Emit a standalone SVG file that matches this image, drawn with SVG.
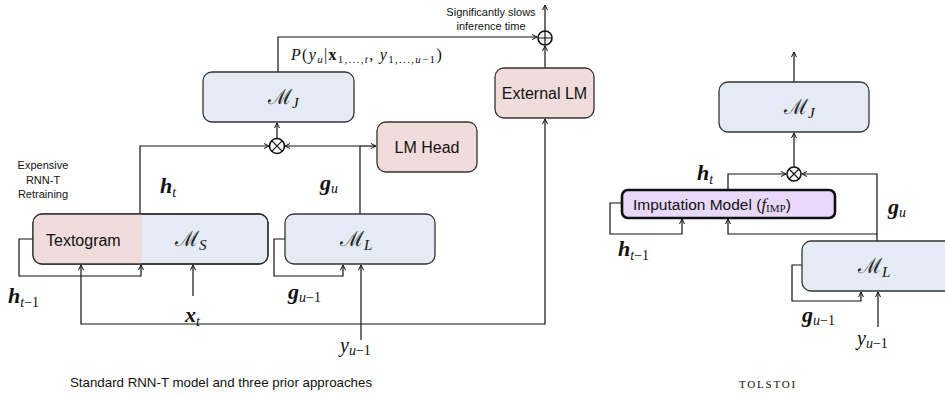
<svg xmlns="http://www.w3.org/2000/svg" width="945" height="396" viewBox="0 0 945 396">
<defs>
<marker id="ar" markerUnits="userSpaceOnUse" markerWidth="8" markerHeight="8" refX="6" refY="3" orient="auto">
<path d="M1,0.5 L6,3 L1,5.5" fill="none" stroke="#111" stroke-width="1"/>
</marker>
</defs>
<style>
.blue{fill:#e4ebf5;stroke:#333;stroke-width:1.3}
.pink{fill:#f0dcdb;stroke:#333;stroke-width:1.3}
.purple{fill:#e9d8f9;stroke:#111;stroke-width:2.6}
.ln{fill:none;stroke:#111;stroke-width:1.2}
.arr{fill:none;stroke:#111;stroke-width:1.2;marker-end:url(#ar)}
.sans{font-family:"Liberation Sans",Arial,sans-serif;fill:#111}
.math{font-family:"Liberation Serif","DejaVu Serif",serif;font-style:italic;fill:#111}
.bm{font-family:"Liberation Serif","DejaVu Serif",serif;font-style:italic;font-weight:bold;fill:#111;font-size:22px}
.cal{font-family:"DejaVu Serif",serif;font-style:normal;fill:#222}
.sub{font-size:14px;font-weight:normal}
.circ{fill:#fff;stroke:#111;stroke-width:1.6}
</style>

<g id="connectors">
<!-- left panel -->
<path class="arr" d="M278,72 V37 H537"/>
<path class="arr" d="M545,31 V5"/>
<path class="arr" d="M545,68 V46"/>
<path class="arr" d="M277,138 V123"/>
<path class="arr" d="M140,214 V146 H269"/>
<path class="ln" d="M360,214 V146"/>
<path class="arr" d="M360,146 H285"/>
<path class="arr" d="M360,146 H376"/>
<path class="arr" d="M33,239 H19 V276 H141 V265"/>
<path class="arr" d="M193,296 V265"/>
<path class="arr" d="M285,239 H274 V276 H343 V265"/>
<path class="arr" d="M361,340 V265"/>
<path class="arr" d="M361,324 H81 V265"/>
<path class="arr" d="M361,324 H545 V119"/>
<!-- right panel -->
<path class="arr" d="M794,82 V52"/>
<path class="arr" d="M794,167 V133"/>
<path class="arr" d="M728,190 V174 H786"/>
<path class="arr" d="M877,241 V174 H802"/>
<path class="arr" d="M877,234 H728 V219"/>
<path class="arr" d="M622,203 H610 V234 H682 V219"/>
<path class="arr" d="M802,265 H792 V301 H861 V292"/>
<path class="arr" d="M878,327 V292"/>
</g>

<g id="ops">
<g id="oplus">
<circle class="circ" cx="545" cy="38" r="7"/>
<path class="ln" d="M538,38 H552 M545,31 V45" stroke-width="1.5"/>
</g>
<g id="otimes-left">
<circle class="circ" cx="277" cy="146" r="7.5"/>
<path class="ln" d="M271.7,140.7 L282.3,151.3 M282.3,140.7 L271.7,151.3" stroke-width="1.5"/>
</g>
<g id="otimes-right">
<circle class="circ" cx="794" cy="174" r="7"/>
<path class="ln" d="M789,169 L799,179 M799,169 L789,179" stroke-width="1.5"/>
</g>
</g>

<g id="mj-left">
<rect class="blue" x="203" y="72" width="151" height="50" rx="9"/>
<text class="cal" x="268" y="104" font-size="21">ℳ<tspan class="math" font-size="15" dy="4">J</tspan></text>
</g>
<g id="external-lm">
<rect class="pink" x="495" y="68" width="99" height="50" rx="9"/>
<text class="sans" x="544.5" y="99" font-size="16" text-anchor="middle">External LM</text>
</g>
<g id="lm-head">
<rect class="pink" x="377" y="122" width="100" height="50" rx="9"/>
<text class="sans" x="427" y="153" font-size="16" text-anchor="middle">LM Head</text>
</g>
<g id="textogram-ms">
<rect class="blue" x="33" y="214" width="235" height="50" rx="9" stroke="none"/>
<path d="M142,214 H42 A9,9 0 0 0 33,223 V255 A9,9 0 0 0 42,264 H142 Z" fill="#f0dcdb"/>
<rect x="33" y="214" width="235" height="50" rx="9" fill="none" stroke="#333" stroke-width="1.3"/>
<text class="sans" x="46" y="246" font-size="16">Textogram</text>
<text class="cal" x="175" y="246" font-size="21">ℳ<tspan class="math" font-size="15" dy="4">S</tspan></text>
</g>
<g id="ml-left">
<rect class="blue" x="285" y="214" width="150" height="50" rx="9"/>
<text class="cal" x="340" y="246" font-size="21">ℳ<tspan class="math" font-size="15" dy="4">L</tspan></text>
</g>

<g id="mj-right">
<rect class="blue" x="719" y="82" width="150" height="50" rx="9"/>
<text class="cal" x="784" y="114" font-size="21">ℳ<tspan class="math" font-size="15" dy="4">J</tspan></text>
</g>
<g id="imputation">
<rect class="purple" x="622" y="190" width="213" height="28" rx="6"/>
<text class="sans" x="633" y="210" font-size="15.5">Imputation Model (<tspan class="math" font-size="17">f</tspan><tspan font-family="Liberation Serif,serif" font-size="11" dy="2">IMP</tspan><tspan dy="-2">)</tspan></text>
</g>
<g id="ml-right">
<rect class="blue" x="802" y="241" width="160" height="50" rx="9"/>
<text class="cal" x="858" y="273" font-size="21">ℳ<tspan class="math" font-size="15" dy="4">L</tspan></text>
</g>

<g id="labels">
<text class="sans" font-size="11" text-anchor="middle"><tspan x="43" y="169">Expensive</tspan><tspan x="43" y="184">RNN-T</tspan><tspan x="43" y="198">Retraining</tspan></text>
<text class="sans" font-size="11" text-anchor="middle"><tspan x="491" y="16">Significantly slows</tspan><tspan x="491" y="30">inference time</tspan></text>
<text class="math" x="291" y="60" font-size="16" letter-spacing="1.3">P<tspan font-style="normal">(</tspan>y<tspan font-size="11" dy="3">u</tspan><tspan dy="-3" font-style="normal">|</tspan><tspan font-style="normal" font-weight="bold">x</tspan><tspan font-size="11" dy="3" font-style="normal">1,...,</tspan><tspan font-size="11">t</tspan><tspan dy="-3" font-style="normal">, </tspan>y<tspan font-size="11" dy="3" font-style="normal">1,...,</tspan><tspan font-size="11">u</tspan><tspan font-size="11" font-style="normal">−1</tspan><tspan dy="-3" font-style="normal">)</tspan></text>
<text class="bm" x="160" y="193">h<tspan class="sub" dy="4" font-style="italic">t</tspan></text>
<text class="bm" x="320" y="190">g<tspan class="sub" dy="3" font-style="italic">u</tspan></text>
<text class="bm" x="8" y="303">h<tspan class="sub" dy="4" font-style="italic">t</tspan><tspan class="sub" font-style="normal">−1</tspan></text>
<text class="bm" x="185" y="322">x<tspan class="sub" dy="4" font-style="italic">t</tspan></text>
<text class="bm" x="288" y="299">g<tspan class="sub" dy="3" font-style="italic">u</tspan><tspan class="sub" font-style="normal">−1</tspan></text>
<text class="math" x="340" y="352" font-size="20">y<tspan font-size="14" dy="3">u</tspan><tspan font-size="14" font-style="normal">−1</tspan></text>
<text class="bm" x="697" y="180">h<tspan class="sub" dy="4" font-style="italic">t</tspan></text>
<text class="bm" x="888" y="214">g<tspan class="sub" dy="3" font-style="italic">u</tspan></text>
<text class="bm" x="618" y="256">h<tspan class="sub" dy="4" font-style="italic">t</tspan><tspan class="sub" font-style="normal">−1</tspan></text>
<text class="bm" x="802" y="322">g<tspan class="sub" dy="3" font-style="italic">u</tspan><tspan class="sub" font-style="normal">−1</tspan></text>
<text class="math" x="857" y="345" font-size="20">y<tspan font-size="14" dy="3">u</tspan><tspan font-size="14" font-style="normal">−1</tspan></text>
<text class="sans" x="70" y="387" font-size="13.3">Standard RNN-T model and three prior approaches</text>
<text x="768" y="388" font-family="Liberation Serif,serif" font-size="11" letter-spacing="1.8" text-anchor="middle" fill="#111">TOLSTOI</text>
</g>
</svg>
